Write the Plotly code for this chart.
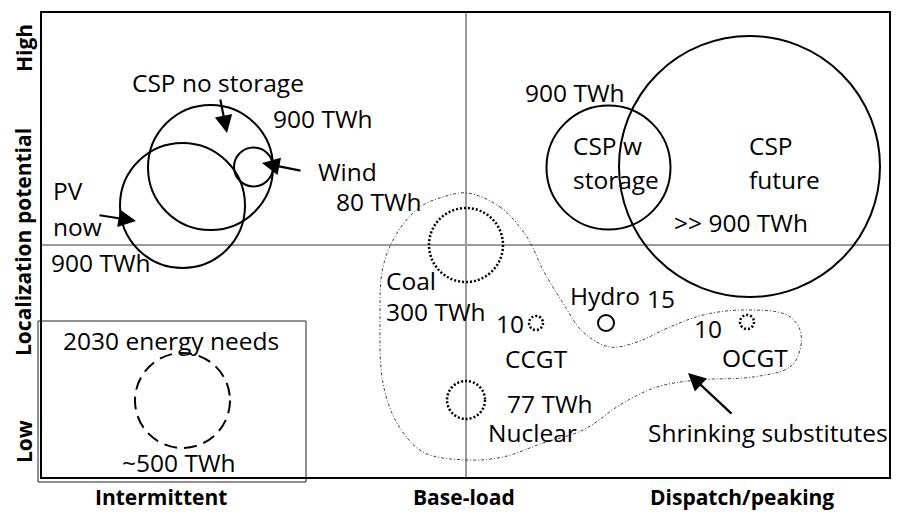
import plotly.graph_objects as go

# ---- diagram data (diagram units: x 0..849 left->right, y 0..466 low->high) ----
FRAME_W = 849
FRAME_H = 466

x_categories = ["Intermittent", "Base-load", "Dispatch/peaking"]
x_category_pos = [120, 423, 701]
y_levels = ["Low", "High"]
y_level_pos = [36, 430]
y_title = "Localization potential"
x_divider = 425
y_divider = 233

# technology bubbles
tech_names = ["CSP no storage", "PV now", "Wind", "CSP w storage", "CSP future",
              "Coal", "Nuclear", "CCGT", "Hydro", "OCGT", "2030 energy needs"]
tech_x = [169.5, 141.5, 212.5, 567.5, 708.5, 425, 425, 495, 565, 706, 141.5]
tech_y = [310.5, 272.5, 311, 310.5, 311.5, 233, 78, 155, 155, 156, 77.5]
tech_r = [62.5, 62.5, 19.5, 62, 130.5, 37, 19, 7, 8, 7, 47.5]
tech_kind = ["new", "new", "new", "new", "new",
             "substitute", "substitute", "substitute", "new", "substitute", "need"]

# "Shrinking substitutes" outline
blob_x = [426, 459, 486, 502, 522, 542, 569, 596, 629, 662, 702, 746, 759, 759, 749,
          712, 656, 616, 582, 542, 502, 462, 426, 382, 356, 342, 339, 342, 356, 379, 402, 426]
blob_y = [285, 271, 241, 208, 175, 146, 131, 136, 151, 163, 168, 163, 148, 128, 111,
          101, 98, 91, 75, 48, 35, 21, 18, 26, 55, 95, 161, 211, 245, 271, 281, 285]

# text labels: (text, x, y, xanchor)
labels = [
    ("CSP no storage", 176.5, 396, "center"),
    ("900 TWh", 281.5, 360, "center"),
    ("Wind", 306.5, 307, "center"),
    ("80 TWh", 337.5, 277, "center"),
    ("PV", 10, 288, "left"),
    ("now", 10, 252, "left"),
    ("900 TWh", 60, 216, "center"),
    ("900 TWh", 534, 386, "center"),
    ("CSP w", 530, 333, "left"),
    ("storage", 530, 299, "left"),
    ("CSP", 706, 333, "left"),
    ("future", 706, 299, "left"),
    (">> 900 TWh", 700, 256, "center"),
    ("Coal", 343, 198, "left"),
    ("300 TWh", 343, 167, "left"),
    ("10", 469, 155, "center"),
    ("CCGT", 495, 120, "center"),
    ("Hydro", 563.5, 183, "center"),
    ("15", 619.5, 180, "center"),
    ("10", 666.5, 150, "center"),
    ("OCGT", 714, 121, "center"),
    ("77 TWh", 508.5, 75, "center"),
    ("Nuclear", 491, 46, "center"),
    ("Shrinking substitutes", 727, 46, "center"),
    ("2030 energy needs", 129.5, 138, "center"),
    ("~500 TWh", 138, 16, "center"),
]

# arrows: (tail_x, tail_y, head_x, head_y)
arrows = [
    (179, 380, 186, 345),
    (261, 307, 221, 315),
    (57, 263, 95, 257),
    (692, 63, 647, 105),
]

# box around the "2030 energy needs" legend
needs_box = (-3, -4, 265, 157)

FONT = "'Open Sans', Lato, sans-serif"
TEXT_SIZE = 24.5
BOLD_SIZE = 21

fig = go.Figure()

fig.add_trace(go.Scatter(
    x=blob_x, y=blob_y, mode="lines",
    line=dict(color="#444444", width=1, dash="3px,2px,1px,2px", shape="spline", smoothing=1),
    hoverinfo="skip", showlegend=False,
))

shapes = []
# dividers
shapes.append(dict(type="line", x0=x_divider, x1=x_divider, y0=0, y1=FRAME_H,
                   line=dict(color="#9a9a9a", width=2), layer="below"))
shapes.append(dict(type="line", x0=0, x1=FRAME_W, y0=y_divider, y1=y_divider,
                   line=dict(color="#9a9a9a", width=2), layer="below"))
# frame
shapes.append(dict(type="rect", x0=0, x1=FRAME_W, y0=0, y1=FRAME_H,
                   line=dict(color="black", width=2)))
# needs box
shapes.append(dict(type="rect", x0=needs_box[0], y0=needs_box[1], x1=needs_box[2], y1=needs_box[3],
                   line=dict(color="#222222", width=1)))

styles = {
    "new": dict(color="black", width=2, dash="solid"),
    "substitute": dict(color="black", width=2.5, dash="2px,2px"),
    "need": dict(color="black", width=2, dash="13px,7px"),
}
for cx, cy, r, k in zip(tech_x, tech_y, tech_r, tech_kind):
    shapes.append(dict(type="circle", x0=cx - r, x1=cx + r, y0=cy - r, y1=cy + r,
                       line=styles[k]))

annotations = []
for txt, x, y, xa in labels:
    annotations.append(dict(text=txt, x=x, y=y, xanchor=xa, yanchor="middle",
                            showarrow=False, font=dict(family=FONT, size=TEXT_SIZE, color="black")))

for tx, ty, hx, hy in arrows:
    annotations.append(dict(text="", x=hx, y=hy, ax=tx, ay=ty, axref="x", ayref="y",
                            showarrow=True, arrowhead=2, arrowsize=1.6, arrowwidth=2.2,
                            arrowcolor="black"))

for name, pos in zip(x_categories, x_category_pos):
    annotations.append(dict(text="<b>%s</b>" % name, x=pos, y=-19, showarrow=False,
                            xanchor="center", yanchor="middle",
                            font=dict(family=FONT, size=BOLD_SIZE, color="black")))
for name, pos in zip(y_levels, y_level_pos):
    annotations.append(dict(text="<b>%s</b>" % name, x=-17, y=pos, textangle=-90, showarrow=False,
                            xanchor="center", yanchor="middle",
                            font=dict(family=FONT, size=BOLD_SIZE, color="black")))
annotations.append(dict(text="<b>%s</b>" % y_title, x=-18, y=236, textangle=-90, showarrow=False,
                        xanchor="center", yanchor="middle",
                        font=dict(family=FONT, size=BOLD_SIZE, color="black")))

fig.update_layout(
    width=898, height=514,
    margin=dict(l=0, r=0, t=0, b=0),
    paper_bgcolor="white", plot_bgcolor="white",
    xaxis=dict(range=[-41, 857], visible=False, fixedrange=True),
    yaxis=dict(range=[-36, 478], visible=False, fixedrange=True),
    shapes=shapes, annotations=annotations,
    showlegend=False,
)

fig.write_html("out.html", config={"displayModeBar": False},
               post_script="document.body.style.margin='0';document.body.style.overflow='hidden';")
